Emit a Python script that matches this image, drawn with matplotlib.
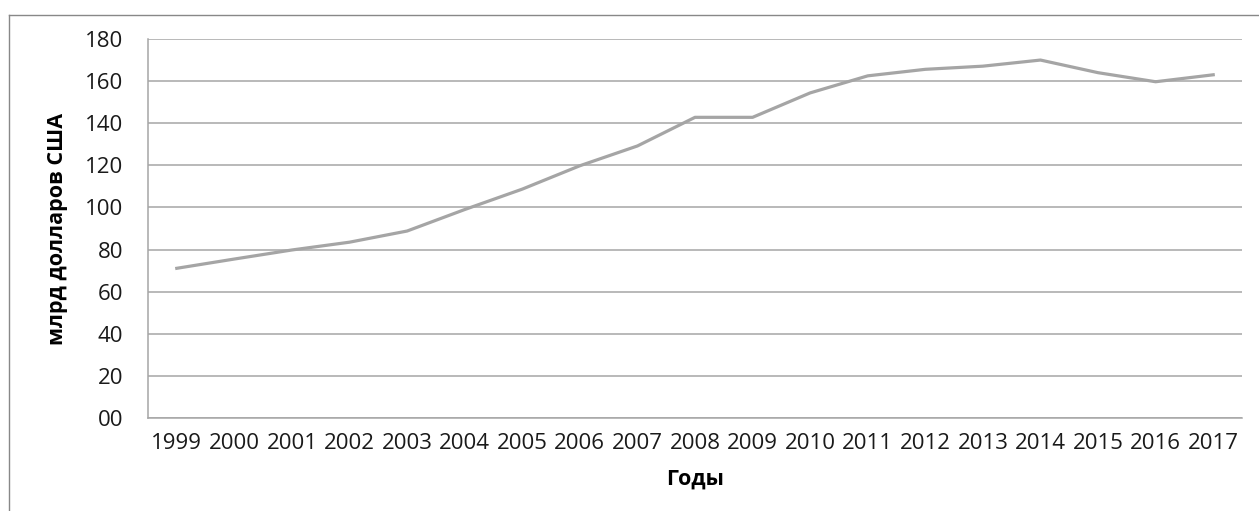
import matplotlib
matplotlib.use("Agg")
import matplotlib.pyplot as plt
from matplotlib.lines import Line2D

# данные
years = ["1999", "2000", "2001", "2002", "2003", "2004", "2005", "2006", "2007", "2008",
         "2009", "2010", "2011", "2012", "2013", "2014", "2015", "2016", "2017"]
values = [71.1, 75.5, 79.8, 83.5, 88.8, 99.0, 108.7, 119.8, 129.2, 142.8,
          142.8, 154.4, 162.5, 165.6, 167.1, 170.0, 164.0, 159.7, 163.0]
y_ticks = [0, 20, 40, 60, 80, 100, 120, 140, 160, 180]
y_tick_labels = ["00", "20", "40", "60", "80", "100", "120", "140", "160", "180"]

GRAY = "#a5a5a5"
GRID = "#a6a6a6"
plt.rcParams["font.family"] = ["Open Sans", "DejaVu Sans"]

fig = plt.figure(figsize=(12.59, 5.11), dpi=100)
ax = fig.add_axes([148 / 1259, 93 / 511, 1094 / 1259, 379 / 511])

x = range(len(years))
ax.plot(x, values, color=GRAY, lw=2.3, solid_joinstyle="round")

ax.set_xlim(-0.5, len(years) - 0.5)
ax.set_ylim(0, 180)
ax.set_yticks(y_ticks)
ax.set_yticklabels(y_tick_labels)
ax.set_xticks(list(x))
ax.set_xticklabels(years)
ax.tick_params(axis="y", length=0, pad=18, labelsize=16, colors="#1a1a1a")
ax.tick_params(axis="x", length=0, pad=11, labelsize=16, colors="#1a1a1a")

ax.grid(axis="y", color=GRID, lw=1.1)
ax.set_axisbelow(True)
for side in ["top", "right"]:
    ax.spines[side].set_visible(False)
for side in ["left", "bottom"]:
    ax.spines[side].set_color(GRID)
    ax.spines[side].set_linewidth(1.1)

ax.set_ylabel("млрд долларов США", fontsize=15.5, fontweight="bold", labelpad=12,
              color="black")
ax.set_xlabel("Годы", fontsize=15.5, fontweight="bold", labelpad=10, color="black")

# рамка области диаграммы
fig.add_artist(Line2D([9 / 1259, 1258 / 1259], [1 - 15 / 511, 1 - 15 / 511],
                      transform=fig.transFigure, color="#888888", lw=1))
fig.add_artist(Line2D([9 / 1259, 9 / 1259], [0, 1 - 15 / 511],
                      transform=fig.transFigure, color="#888888", lw=1))

fig.savefig("out.png", dpi=100)
